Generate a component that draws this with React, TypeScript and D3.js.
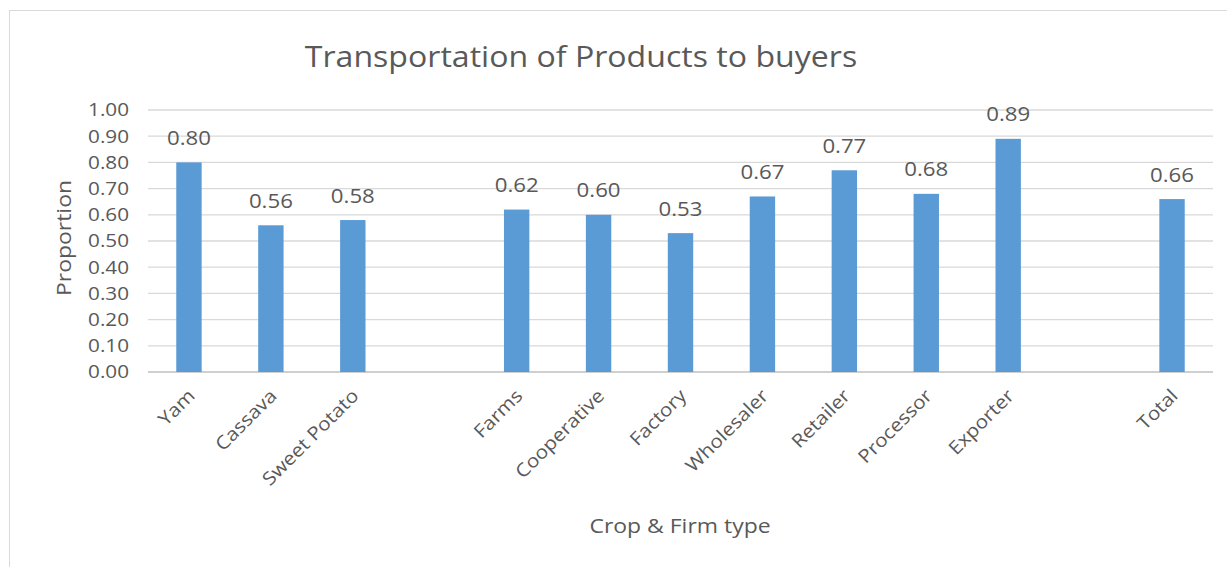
import React from "react";
import * as d3 from "d3";

const categories = ["Yam", "Cassava", "Sweet Potato", "", "Farms", "Cooperative", "Factory", "Wholesaler", "Retailer", "Processor", "Exporter", " ", "Total"];
const values: (number | null)[] = [0.80, 0.56, 0.58, null, 0.62, 0.60, 0.53, 0.67, 0.77, 0.68, 0.89, null, 0.66];
const yTicks = [0, 0.1, 0.2, 0.3, 0.4, 0.5, 0.6, 0.7, 0.8, 0.9, 1.0];
const title = "Transportation of Products to buyers";
const xTitle = "Crop & Firm type";
const yTitle = "Proportion";

const W = 1227, H = 567;
const left = 148, right = 1213, top = 110, bottom = 372;
const font = "'Open Sans', sans-serif";
const textColor = "#595959";

function T(props: { x: number; y: number; rot?: number; sx?: number; size: number; anchor?: string; dy?: string; children: React.ReactNode }) {
  const { x, y, rot = 0, sx = 1.12, size, anchor = "middle", dy, children } = props;
  return (
    <text transform={`translate(${x},${y}) rotate(${rot}) scale(${sx},1)`} textAnchor={anchor} dy={dy} fontFamily={font} fontSize={size} fill={textColor}>
      {children}
    </text>
  );
}

export default function App() {
  const x = d3.scaleBand<string>().domain(categories).range([left, right]).paddingInner(0.69).paddingOuter(0.345);
  const y = d3.scaleLinear().domain([0, 1]).range([bottom, top]);
  const fmt = d3.format(".2f");
  return (
    <svg width={W} height={H} style={{ position: "fixed", left: 0, top: 0, background: "#fff" }}>
      <rect x={9.5} y={10.5} width={1240} height={580} fill="#fff" stroke="#D9D9D9" />
      <T x={581} y={67} size={30} sx={1.07}>{title}</T>
      {yTicks.map((t) => (
        <g key={t}>
          <line x1={left} x2={right} y1={y(t)} y2={y(t)} stroke={t === 0 ? "#BFBFBF" : "#D9D9D9"} strokeWidth={1.3} />
          <T x={129} y={y(t)} dy="0.35em" anchor="end" size={18.5}>{fmt(t)}</T>
        </g>
      ))}
      {categories.map((c, i) => {
        const v = values[i];
        const bx = x(c)!;
        const cx = bx + x.bandwidth() / 2;
        return (
          <g key={i}>
            {v != null && (
              <>
                <rect x={bx} y={y(v)} width={x.bandwidth()} height={y(0) - y(v)} fill="#5B9BD5" />
                <T x={cx} y={y(v) - 17.5} size={19.5} sx={1.14}>{fmt(v)}</T>
              </>
            )}
            {c.trim() !== "" && (
              <T x={cx + 7} y={bottom + 25} rot={-45} anchor="end" size={18.5}>{c}</T>
            )}
          </g>
        );
      })}
      <T x={71} y={238} rot={-90} size={20.5}>{yTitle}</T>
      <T x={680} y={533} size={20.5}>{xTitle}</T>
    </svg>
  );
}
